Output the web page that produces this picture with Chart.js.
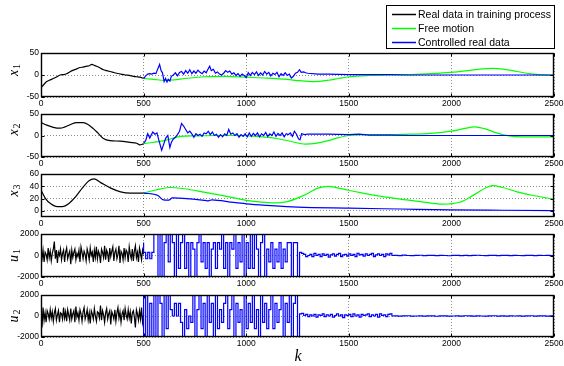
<!DOCTYPE html>
<html><head><meta charset="utf-8">
<script src="https://cdn.jsdelivr.net/npm/chart.js@4.4.1/dist/chart.umd.min.js"></script>
<style>
html,body{margin:0;padding:0;background:#fff;width:564px;height:366px;overflow:hidden;position:relative}
canvas{position:absolute;left:0}
</style></head><body>
<canvas id="c1"></canvas><canvas id="c2"></canvas><canvas id="c3"></canvas><canvas id="c4"></canvas><canvas id="c5"></canvas>
<script>
// ---------- tick labels / categories ----------
const xTicks = [0, 500, 1000, 1500, 2000, 2500];
const x1Ticks = [-50, 0, 50];
const x2Ticks = [-50, 0, 50];
const x3Ticks = [0, 20, 40, 60];
const uTicks = [-2000, 0, 2000];
const legendLabels = ['Real data in training process', 'Free motion', 'Controlled real data'];
const seriesColors = ['#000000', '#00ff00', '#0000ff'];

// ---------- x1 ----------
const x1RealK = [0,15,28,45,60,78,93,110,125,140,158,175,190,205,223,235,247,260,271,288,304,320,336,352,369,390,410,430,450,466,482,500];
const x1RealV = [-29,-21,-15,-11,-8,-4,0,1,3,7,11,14,17,18,20,21,24,22,20,16,12,10,8,6,4,2,0,-1,-3,-4,-5,-8];
const x1FreeK = [500,550,600,650,700,800,900,1000,1100,1200,1260,1330,1400,1450,1500,1600,1700,1800,1900,2000,2080,2150,2200,2260,2320,2400,2500];
const x1FreeV = [-8,-10,-12,-11,-8,-4,-3,-5,-7,-10,-13,-15,-12,-8,-4,-1,0,1,3,6,10,14,15,13,8,2,-1];
const x1CtrlK = [500,510,520,530,540,550,560,570,578,585,592,600,607,614,620,628,635,645,655,665,675,685,695,705,715,725,735,745,755,765,775,785,795,805,815,822,830,840,850,860,870,880,890,900,910,920,930,940,950,960,970,980,990,1000,1010,1020,1030,1040,1050,1060,1070,1080,1090,1100,1110,1120,1130,1140,1150,1160,1170,1180,1190,1200,1210,1220,1230,1240,1250,1260,1268,1280,1290,1300,1350,1400,1500,1600,1700,1800,2000,2200,2500];
const x1CtrlV = [-8,-2,2,3,2,4,3,15,24,10,5,-15,-8,-16,-10,-14,-3,0,5,-2,6,8,2,10,4,12,3,9,4,11,6,3,9,5,14,20,10,13,4,7,2,0,4,10,6,9,2,5,-1,3,-3,2,-1,-6,5,-1,6,1,7,-1,5,0,8,2,6,-2,4,1,6,-4,3,-1,5,-1,2,-7,-3,4,6,12,6,7,5,4,2,2,1,1,1,0,0,0,0];

// ---------- x2 ----------
const x2RealK = [0,28,60,93,117,141,174,206,231,255,279,304,336,385,434,466,482,500];
const x2RealV = [30,24,19,17,20,25,30,30,25,16,5,-7,-12,-13,-16,-18,-22,-19];
const x2FreeK = [500,600,682,750,850,950,1050,1150,1220,1289,1330,1400,1450,1500,1600,1700,1800,1900,2000,2060,2114,2160,2220,2280,2350,2500];
const x2FreeV = [-19,-12,-2,-1,0,0,-2,-7,-14,-20,-19,-12,-5,0,2,2,3,5,10,16,20,16,6,-1,-3,-3];
const x2CtrlK = [500,510,520,530,538,545,555,565,575,588,598,608,618,628,636,645,655,665,675,685,695,705,715,725,735,745,755,765,775,785,795,805,815,825,835,845,855,865,875,885,895,905,915,925,935,945,955,965,975,985,995,1005,1015,1025,1035,1045,1055,1065,1075,1085,1095,1105,1115,1125,1135,1145,1155,1165,1175,1185,1195,1205,1215,1225,1235,1245,1255,1262,1270,1285,1300,1400,1500,1550,1600,1700,1800,2000,2500];
const x2CtrlV = [-18,-12,4,-6,2,8,3,6,-12,-34,-20,-6,0,-28,-15,-8,-4,2,10,28,22,14,6,10,4,-4,4,0,3,-2,6,4,10,2,8,0,3,-4,2,-3,4,0,14,3,6,0,4,-4,2,-2,4,-3,6,-2,5,0,6,-3,4,0,7,-2,4,0,8,-2,5,0,6,-3,4,2,6,-2,10,3,-8,-10,4,2,3,3,2,3,1,1,0,0,0];

// ---------- x3 ----------
const x3RealK = [0,22,46,79,104,136,169,201,234,258,291,340,388,437,486,500];
const x3RealV = [34,20,12,7,7,12,23,37,49,52,46,37,31,29,29,29];
const x3FreeK = [500,560,623,700,800,900,1000,1131,1200,1280,1350,1400,1450,1550,1650,1750,1850,1956,2040,2110,2170,2200,2250,2320,2400,2500];
const x3FreeV = [29,34,38,36,30,24,17,13,15,25,37,40,37,30,24,19,15,11,14,26,38,41,38,31,25,19];
const x3CtrlK = [500,570,596,623,640,710,800,815,833,938,1000,1100,1250,1500,1750,2000,2250,2500];
const x3CtrlV = [29,25,18,17.5,21,20,17,16.4,18,13.7,11.5,9,6,4.4,3,1.6,1,0.5];

// ---------- u1 ----------
const u1Real = [200,-300,500,-600,300,100,-400,700,-200,400,-500,200,600,1300,-300,500,-700,300,0,600,-400,200,500,-600,300,700,-300,100,400,-800,500,-200,300,600,-400,200,-100,500,-600,800,300,-300,400,100,-500,600,200,-400,700,0,300,-600,500,-200,800,-300,400,100,-700,600,300,-200,900,-400,500,200,-600,700,-100,400,800,-500,300,600,-300,100,900,-700,400,200,-400,700,-200,500,300,-600,800,100,-300,600,-500,400,900,-200,300,-600,700,200,-400,500,100];
const u1Ctrl = [1200,300,-300,300,-300,300,2200,2200,-2200,2200,-2200,1200,2200,-600,2200,1200,-2200,2200,-1200,1200,2200,-1200,1200,-2200,1200,600,-2200,1200,2200,-600,1200,-1200,1200,-2200,600,1200,-1200,1200,600,2200,-1200,1200,-2200,1200,600,2200,-1200,1200,-600,2200,-2200,1200,-1200,2200,-1200,2200,600,-2200,1200,2200,-2200,600,-600,1200,-1200,600,-600,1200,-1200,600,-600,1200,1200,-2200,1200,1200,-2200,300];
const u1Mid = [200,100,-100,0,100,-100,200,0,100,-100,150,0,100,-150,50,150,-50,100,200,-100,50,100,-50,150,0,100,-100,200,50,100,-50,150,0,100,200,-100,50,150,0,100,-100,150,50,200,0];
const u1Tail = [20,-10,30,0,-20,10,25,-15,5,20,-10,15,0,-25,10,20,-5,15,-10,5,25,0,-15,10,20,-20,5,15,-5,10,0,-10,20,5,-15,10,0,15,-5];

// ---------- u2 ----------
const u2Real = [1200,-1100,800,-400,300,-600,500,200,-300,600,-200,400,-500,300,700,-400,100,500,-600,300,200,-300,800,-200,400,-500,600,100,-400,700,-300,200,500,-600,900,-100,300,-400,600,200,-500,400,800,-300,100,600,-400,300,-700,500,200,-300,700,0,-500,400,300,-200,1000,-400,500,100,-600,300,700,-300,200,500,-800,400,100,-300,600,-500,300,800,-200,400,-600,200,500,-400,700,100,-300,600,-200,400,-700,300,500,-100,-1100,600,200,-400,500,-300,800,-600,100];
const u2Ctrl = [2200,-2200,2200,-2200,1200,-2200,2200,-2200,2200,1200,-2200,2200,-1200,2200,600,0,1200,0,1200,-600,-2200,600,-1200,0,-600,2200,-2200,600,2200,-1200,1200,-2200,2200,-600,1200,-2200,2200,-1200,600,-600,1200,2200,-1200,600,2200,-2200,1200,-600,600,-2200,2200,-1200,1200,-600,2200,-1200,600,-2200,2200,-600,1200,-1200,600,2200,-1200,1200,-600,600,2200,-2200,1200,-600,2200,-2200,1200,2200,-2200,200];
const u2Mid = [250,50,150,-50,100,0,150,-100,100,50,200,-50,100,0,150,-100,50,200,0,100,-150,100,50,150,-50,200,0,100,-100,150,50,100,200,-50,100,0,150,-100,200,50,100,-50,150,200,0];
const u2Tail = [10,-20,15,25,-10,0,20,-15,10,5,-25,15,20,-5,0,10,-15,25,5,-10,15,0,-20,10,25,-5,10,-15,20,0,5,-10,15,25,-20,5,10,-5,15];

// ---------- helpers ----------
const pairs = (ks, vs) => ks.map((k, i) => ({x: k, y: vs[i]}));
const uniform = (start, step, vs) => vs.map((v, i) => ({x: start + i * step, y: v}));

function lineDs(data, color, opts) {
  return Object.assign({data, borderColor: color, backgroundColor: color, borderWidth: 1.2, pointRadius: 0, fill: false, tension: 0}, opts || {});
}
const smooth = {cubicInterpolationMode: 'monotone'};

const tickFont = {family: '"Liberation Sans", Arial, sans-serif', size: 8.5};

const framePlugin = {
  id: 'frame',
  afterDatasetsDraw(chart, args, o) {
    const {ctx, chartArea: a, scales} = chart;
    const L = Math.round(a.left) + 0.5, R = Math.round(a.right) - 0.5, T = Math.round(a.top) + 0.5, B = Math.round(a.bottom) - 0.5;
    ctx.save();
    ctx.strokeStyle = '#000'; ctx.lineWidth = 1;
    ctx.beginPath();
    xTicks.forEach(v => { const px = Math.round(scales.x.getPixelForValue(v)) + 0.5; ctx.moveTo(px, T); ctx.lineTo(px, T + 3); ctx.moveTo(px, B); ctx.lineTo(px, B - 3); });
    (o.ticks || []).forEach(v => { const py = Math.round(scales.y.getPixelForValue(v)) + 0.5; ctx.moveTo(L, py); ctx.lineTo(L + 3, py); ctx.moveTo(R, py); ctx.lineTo(R - 3, py); });
    ctx.stroke();
    ctx.lineWidth = 1.4;
    ctx.strokeRect(L, T, R - L, B - T);
    ctx.restore();
  }
};

const labelPlugin = {
  id: 'axisLabel',
  afterDraw(chart, args, o) {
    const {ctx, chartArea: a} = chart;
    const mid = (a.top + a.bottom) / 2 + (o.dy || 0);
    ctx.save();
    ctx.fillStyle = '#000';
    const fMain = 'italic 14px "Liberation Serif", "DejaVu Serif", serif';
    const fSub = '10px "Liberation Serif", "DejaVu Serif", serif';
    ctx.font = fMain; const w1 = ctx.measureText(o.main).width;
    ctx.font = fSub; const w2 = ctx.measureText(o.sub).width;
    const total = w1 + 1 + w2;
    ctx.translate(17.5, mid); ctx.rotate(-Math.PI / 2);
    ctx.textBaseline = 'alphabetic'; ctx.textAlign = 'left';
    ctx.font = fMain; ctx.fillText(o.main, -total / 2, 0);
    ctx.font = fSub; ctx.fillText(o.sub, -total / 2 + w1 + 1, 2.5);
    ctx.restore();
    if (o.k) {
      ctx.save(); ctx.fillStyle = '#000';
      ctx.font = 'italic 16px "Liberation Serif", "DejaVu Serif", serif';
      ctx.textAlign = 'center'; ctx.textBaseline = 'alphabetic';
      ctx.fillText('k', 298, chart.height - 5);
      ctx.restore();
    }
    if (o.legend) {
      ctx.save();
      ctx.fillStyle = '#fff'; ctx.fillRect(386.5, 5.5, 168, 43);
      ctx.strokeStyle = '#000'; ctx.lineWidth = 1; ctx.strokeRect(386.5, 5.5, 168, 43);
      ctx.font = '10.5px "Liberation Sans", Arial, sans-serif';
      ctx.textBaseline = 'middle'; ctx.textAlign = 'left';
      legendLabels.forEach((t, i) => {
        const y = 14.5 + i * 14;
        ctx.strokeStyle = seriesColors[i]; ctx.lineWidth = 1.5;
        ctx.beginPath(); ctx.moveTo(392, y); ctx.lineTo(416, y); ctx.stroke();
        ctx.fillStyle = '#000'; ctx.fillText(t, 418, y + 0.5);
      });
      ctx.restore();
    }
  }
};

function makePanel(id, p) {
  const cv = document.getElementById(id);
  cv.width = 564; cv.height = p.ch; cv.style.top = p.ct + 'px';
  const gridOpts = {color: 'rgba(0,0,0,0.45)', lineWidth: 1, drawTicks: false};
  return new Chart(cv, {
    type: 'line',
    data: {datasets: p.datasets},
    options: {
      responsive: false, animation: false, devicePixelRatio: 1, events: [],
      layout: {padding: {left: 0, right: 10, top: p.pt, bottom: p.ch - p.pt - p.ph - 14}},
      plugins: {legend: {display: false}, tooltip: {enabled: false},
        axisLabel: p.label, frame: {ticks: p.ticks}},
      scales: {
        x: {type: 'linear', min: 0, max: 2500,
          afterBuildTicks: s => { s.ticks = xTicks.map(v => ({value: v})); },
          afterFit: s => { s.height = 14; s.paddingLeft = 0; s.paddingRight = 0; },
          ticks: {autoSkip: false, maxRotation: 0, padding: 2, color: '#000', font: tickFont, callback: v => String(v)},
          grid: gridOpts, border: {display: false, dash: [1, 2]}},
        y: {type: 'linear', min: p.min, max: p.max,
          afterBuildTicks: s => { s.ticks = p.ticks.map(v => ({value: v})); },
          afterFit: s => { s.width = 41; s.paddingTop = 0; s.paddingBottom = 0; },
          ticks: {autoSkip: false, padding: 2, color: '#000', font: tickFont, callback: v => String(v)},
          grid: gridOpts, border: {display: false, dash: [1, 2]}}
      }
    },
    plugins: [framePlugin, labelPlugin]
  });
}

const [cBlack, cGreen, cBlue] = seriesColors;

makePanel('c1', {ct: 0, ch: 111, pt: 53, ph: 44, min: -50, max: 50, ticks: x1Ticks,
  label: {main: 'x', sub: '1', dy: -5, legend: true},
  datasets: [lineDs(pairs(x1CtrlK, x1CtrlV), cBlue), lineDs(pairs(x1FreeK, x1FreeV), cGreen, smooth), lineDs(pairs(x1RealK, x1RealV), cBlack, smooth)]});

makePanel('c2', {ct: 106, ch: 65, pt: 8, ph: 43, min: -50, max: 50, ticks: x2Ticks,
  label: {main: 'x', sub: '2', dy: -6},
  datasets: [lineDs(pairs(x2CtrlK, x2CtrlV), cBlue), lineDs(pairs(x2FreeK, x2FreeV), cGreen, smooth), lineDs(pairs(x2RealK, x2RealV), cBlack, smooth)]});

makePanel('c3', {ct: 166, ch: 65, pt: 8, ph: 43, min: -10, max: 60, ticks: x3Ticks,
  label: {main: 'x', sub: '3', dy: -5},
  datasets: [lineDs(pairs(x3CtrlK, x3CtrlV), cBlue, smooth), lineDs(pairs(x3FreeK, x3FreeV), cGreen, smooth), lineDs(pairs(x3RealK, x3RealV), cBlack, smooth)]});

makePanel('c4', {ct: 226, ch: 65, pt: 8, ph: 43, min: -2000, max: 2000, ticks: uTicks,
  label: {main: 'u', sub: '1', dy: 0},
  datasets: [lineDs([...uniform(500, 10, u1Ctrl), ...uniform(1280, 10, u1Mid), ...uniform(1740, 20, u1Tail)], cBlue, {stepped: 'after'}),
             lineDs(uniform(0, 5, u1Real), cBlack)]});

makePanel('c5', {ct: 287, ch: 79, pt: 8, ph: 42, min: -2000, max: 2000, ticks: uTicks,
  label: {main: 'u', sub: '2', dy: 0, k: true},
  datasets: [lineDs([...uniform(500, 10, u2Ctrl), ...uniform(1280, 10, u2Mid), ...uniform(1740, 20, u2Tail)], cBlue, {stepped: 'after'}),
             lineDs(uniform(0, 5, u2Real), cBlack)]});
</script>
</body></html>
